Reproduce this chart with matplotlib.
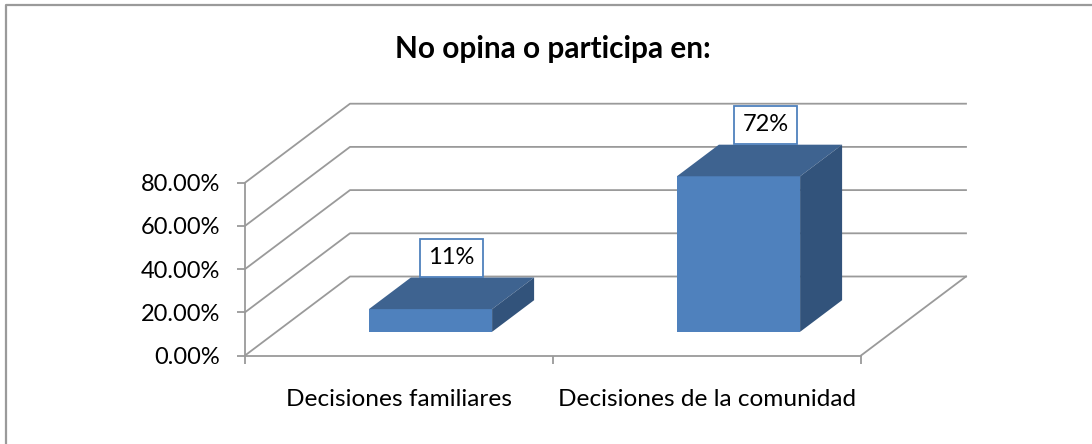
import matplotlib
matplotlib.use('Agg')
import matplotlib.pyplot as plt
from matplotlib.lines import Line2D
from matplotlib.patches import Polygon

# values
categories = ['Decisiones familiares', 'Decisiones de la comunidad']
values = [10.5, 72]
value_labels = ['11%', '72%']
yticks = [0, 20, 40, 60, 80]
ytick_labels = ['0.00%', '20.00%', '40.00%', '60.00%', '80.00%']

W, H = 1092, 444
grey = '#9a9a9a'
front = '#4f81bd'
top = '#3e6390'
side = '#32537b'

plt.rcParams['font.family'] = ['Lato', 'DejaVu Sans']

# depth shift of the back wall, in data units
depth_x = 105 / 308
depth_y = 79 / 2.16
bar_width = 0.4
bar_d0, bar_d1 = 0.3, 0.7
label_shift = [0, 4.3]  # the second label box sits a bit to the right


def proj(x, v, d):
    return (x + d * depth_x, v + d * depth_y)


fig = plt.figure(figsize=(W / 100, H / 100), dpi=100)
ax = fig.add_axes([245 / W, 1 - 355.5 / H, 616 / W, 172.8 / H])
ax.set_xlim(0, 2)
ax.set_ylim(0, 80)
ax.patch.set_visible(False)

# walls and floor
for v in yticks:
    pts = [proj(0, v, 0), proj(0, v, 1), proj(2, v, 1)]
    ax.plot(*zip(*pts), color=grey, lw=1.3, clip_on=False, zorder=1)
ax.plot(*zip(proj(2, 0, 0), proj(2, 0, 1)), color=grey, lw=1.3, clip_on=False, zorder=1)

# 3d bars
for i, v in enumerate(values):
    x0 = i + 0.5 - bar_width / 2
    x1 = i + 0.5 + bar_width / 2
    faces = [
        ([proj(x0, 0, bar_d0), proj(x1, 0, bar_d0), proj(x1, v, bar_d0), proj(x0, v, bar_d0)], front),
        ([proj(x0, v, bar_d0), proj(x1, v, bar_d0), proj(x1, v, bar_d1), proj(x0, v, bar_d1)], top),
        ([proj(x1, 0, bar_d0), proj(x1, 0, bar_d1), proj(x1, v, bar_d1), proj(x1, v, bar_d0)], side),
    ]
    for pts, c in faces:
        ax.add_patch(Polygon(pts, closed=True, fc=c, ec='none', clip_on=False, zorder=3))
    ax.annotate(value_labels[i], xy=proj(i + 0.5, v, 0.5), xytext=(label_shift[i], 25.6),
                textcoords='offset points', ha='center', va='center', fontsize=17,
                color='black', zorder=5, annotation_clip=False,
                bbox=dict(boxstyle='square,pad=0.37', fc='white', ec='#4f81bd', lw=1.3))

# axes
for s in ['top', 'right']:
    ax.spines[s].set_visible(False)
for s in ['left', 'bottom']:
    ax.spines[s].set_color(grey)
    ax.spines[s].set_linewidth(1.3)
ax.set_yticks(yticks)
ax.set_yticklabels(ytick_labels, fontsize=17)
ax.tick_params(axis='y', direction='out', length=5.8, width=1.3, color=grey, pad=12)
ax.set_xticks([0, 1, 2])
ax.set_xticklabels(['', '', ''])
ax.tick_params(axis='x', which='major', direction='out', length=5.5, width=1.3, color=grey)
ax.set_xticks([0.5, 1.5], minor=True)
ax.set_xticklabels(categories, minor=True, fontsize=17.6)
ax.tick_params(axis='x', which='minor', length=0, pad=24)

fig.text(553 / W, 1 - 49 / H, 'No opina o participa en:', ha='center', va='center',
         fontsize=21.4, fontweight='bold', color='black')

# outer frame, only top and left are in the picture
fig.add_artist(Line2D([6 / W, 6 / W, 1], [0, 1 - 5 / H, 1 - 5 / H], color=grey, lw=1.6))

fig.savefig('out.png', dpi=100)
